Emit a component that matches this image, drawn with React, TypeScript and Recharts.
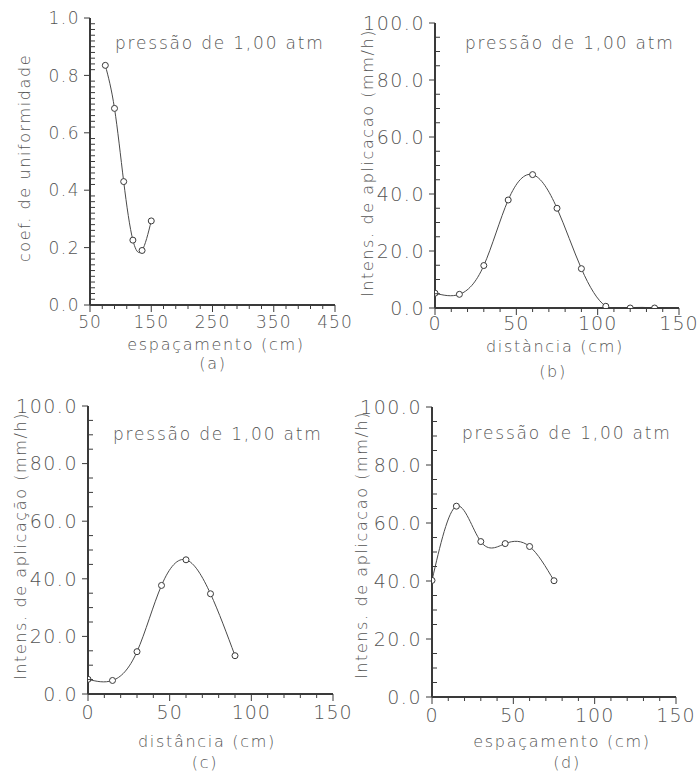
import React from 'react';
import { LineChart, Line, XAxis, YAxis, Customized } from 'recharts';

// Panel (a): coef. de uniformidade vs espaçamento
const aX = [75, 90, 105, 120, 135, 150];
const aY = [0.835, 0.685, 0.43, 0.226, 0.19, 0.293];
// Panel (b): intensidade vs distância
const bX = [0, 15, 30, 45, 60, 75, 90, 105, 120, 135];
const bY = [5.2, 4.8, 14.9, 37.9, 46.8, 35.0, 13.8, 0.6, 0, 0];
// Panel (c)
const cX = [0, 15, 30, 45, 60, 75, 90];
const cY = [5.1, 4.7, 14.7, 37.7, 46.6, 34.8, 13.3];
// Panel (d)
const dX = [0, 15, 30, 45, 60, 75];
const dY = [40.2, 65.8, 53.6, 52.9, 51.9, 40.1];

// Axis ticks
const aXMajor = [50, 150, 250, 350, 450];
const aXMinorStep = 20;
const aYMajor = [0, 0.2, 0.4, 0.6, 0.8, 1.0];
const aYMinorStep = 0.02;
const iXMajor = [0, 50, 100, 150];
const iXMinorStep = 10;
const iYMajor = [0, 20, 40, 60, 80, 100];
const iYMinorStep = 5;

const FONT = '"DejaVu Sans", sans-serif';
const WEIGHT = 200;
const TEXT = '#555';
const INK = '#3a3a3a';

function range(lo: number, hi: number, step: number): number[] {
  const out: number[] = [];
  const n = Math.round((hi - lo) / step);
  for (let i = 0; i <= n; i++) out.push(+(lo + i * step).toFixed(6));
  return out;
}

function isMajor(v: number, majors: number[]) {
  return majors.some((m) => Math.abs(m - v) < 1e-6);
}

type PanelProps = {
  left: number; top: number; width: number; height: number;
  margin: { top: number; right: number; left: number; bottom: number };
  yWidth: number; xHeight: number;
  xs: number[]; ys: number[];
  xDomain: [number, number]; xMajor: number[]; xStep: number;
  yDomain: [number, number]; yMajor: number[]; yStep: number;
  tickFont: number; xLabelDy: number;
  yTitle: string; yTitlePos: [number, number];
  xTitle: string; xTitlePos: [number, number];
  tag: string; tagPos: [number, number];
  notePos: [number, number];
};

function Panel(p: PanelProps) {
  const data = p.xs.map((x, i) => ({ x, y: p.ys[i] }));
  const xTicks = range(p.xDomain[0], p.xDomain[1], p.xStep);
  const yTicks = range(p.yDomain[0], p.yDomain[1], p.yStep);
  const textStyle = { fontFamily: FONT, fill: TEXT, fontWeight: WEIGHT };

  const XTick = (t: any) => {
    const major = isMajor(t.payload.value, p.xMajor);
    return (
      <g>
        <line x1={t.x} x2={t.x} y1={t.y} y2={t.y + (major ? 7 : 4)} stroke={INK} strokeWidth={1} />
        {major && (
          <text x={t.x} y={t.y + p.xLabelDy} textAnchor="middle" fontSize={p.tickFont} letterSpacing={1} style={textStyle}>
            {String(t.payload.value)}
          </text>
        )}
      </g>
    );
  };
  const YTick = (t: any) => {
    const major = isMajor(t.payload.value, p.yMajor);
    return (
      <g>
        {major ? (
          <line x1={t.x - 6} x2={t.x} y1={t.y} y2={t.y} stroke={INK} strokeWidth={1} />
        ) : (
          <line x1={t.x} x2={t.x + 5} y1={t.y} y2={t.y} stroke={INK} strokeWidth={1} />
        )}
        {major && (
          <text x={t.x - 10} y={t.y} dy="0.36em" textAnchor="end" fontSize={p.tickFont} letterSpacing={1.5} style={textStyle}>
            {Number(t.payload.value).toFixed(1)}
          </text>
        )}
      </g>
    );
  };

  const Overlay = () => (
    <g style={{ fontFamily: FONT, fontWeight: WEIGHT }} fill={TEXT}>
      <text
        transform={`translate(${p.yTitlePos[0]},${p.yTitlePos[1]}) rotate(-90)`}
        textAnchor="middle" dy="0.35em" fontSize={16} letterSpacing={1.6}
      >
        {p.yTitle}
      </text>
      <text x={p.xTitlePos[0]} y={p.xTitlePos[1]} textAnchor="middle" fontSize={16} letterSpacing={1.7}>
        {p.xTitle}
      </text>
      <text x={p.tagPos[0]} y={p.tagPos[1]} textAnchor="middle" fontSize={16} letterSpacing={1.7}>
        {p.tag}
      </text>
      <text x={p.notePos[0]} y={p.notePos[1]} fontSize={17} letterSpacing={1.8}>
        pressão de 1,00 atm
      </text>
    </g>
  );

  return (
    <div style={{ position: 'absolute', left: p.left, top: p.top, width: p.width, height: p.height }}>
      <LineChart width={p.width} height={p.height} data={data} margin={p.margin}>
        <XAxis
          dataKey="x" type="number" domain={p.xDomain} ticks={xTicks} interval={0}
          allowDataOverflow height={p.xHeight} tickSize={0} tickMargin={0}
          axisLine={{ stroke: INK, strokeWidth: 2 }} tickLine={false} tick={XTick}
        />
        <YAxis
          dataKey="y" type="number" domain={p.yDomain} ticks={yTicks} interval={0}
          allowDataOverflow width={p.yWidth} tickSize={0} tickMargin={0}
          axisLine={{ stroke: INK, strokeWidth: 2 }} tickLine={false} tick={YTick}
        />
        <Line
          type="natural" dataKey="y" stroke="#4a4a4a" strokeWidth={1}
          dot={{ r: 3, stroke: INK, strokeWidth: 1, fill: '#fff' }}
          isAnimationActive={false}
        />
        <Customized component={Overlay} />
      </LineChart>
    </div>
  );
}

export default function App() {
  return (
    <div style={{ position: 'absolute', left: 0, top: 0, width: 700, height: 781, background: '#fff', overflow: 'hidden' }}>
      <Panel
        left={0} top={0} width={372} height={390}
        margin={{ top: 18, right: 37, left: 0, bottom: 0 }} yWidth={90} xHeight={85}
        xs={aX} ys={aY}
        xDomain={[50, 450]} xMajor={aXMajor} xStep={aXMinorStep}
        yDomain={[0, 1]} yMajor={aYMajor} yStep={aYMinorStep}
        tickFont={17} xLabelDy={23}
        yTitle="coef. de uniformidade" yTitlePos={[24, 158]}
        xTitle="espaçamento (cm)" xTitlePos={[216, 350]}
        tag="(a)" tagPos={[213, 369]}
        notePos={[115, 49]}
      />
      <Panel
        left={350} top={0} width={350} height={390}
        margin={{ top: 23, right: 21, left: 0, bottom: 0 }} yWidth={85} xHeight={82}
        xs={bX} ys={bY}
        xDomain={[0, 150]} xMajor={iXMajor} xStep={iXMinorStep}
        yDomain={[0, 100]} yMajor={iYMajor} yStep={iYMinorStep}
        tickFont={19} xLabelDy={22}
        yTitle="Intens. de aplicacao (mm/h)" yTitlePos={[17, 163]}
        xTitle="distància (cm)" xTitlePos={[205, 352]}
        tag="(b)" tagPos={[203, 377]}
        notePos={[115, 49]}
      />
      <Panel
        left={0} top={390} width={372} height={391}
        margin={{ top: 16, right: 39, left: 0, bottom: 0 }} yWidth={88} xHeight={87}
        xs={cX} ys={cY}
        xDomain={[0, 150]} xMajor={iXMajor} xStep={iXMinorStep}
        yDomain={[0, 100]} yMajor={iYMajor} yStep={iYMinorStep}
        tickFont={19} xLabelDy={25}
        yTitle="Intens. de aplicação (mm/h)" yTitlePos={[20, 156]}
        xTitle="distância (cm)" xTitlePos={[207, 357]}
        tag="(c)" tagPos={[205, 378]}
        notePos={[113, 50]}
      />
      <Panel
        left={350} top={390} width={350} height={391}
        margin={{ top: 17, right: 24, left: 0, bottom: 0 }} yWidth={82} xHeight={84}
        xs={dX} ys={dY}
        xDomain={[0, 150]} xMajor={iXMajor} xStep={iXMinorStep}
        yDomain={[0, 100]} yMajor={iYMajor} yStep={iYMinorStep}
        tickFont={19} xLabelDy={25}
        yTitle="Intens. de aplicacao (mm/h)" yTitlePos={[11, 155]}
        xTitle="espaçamento (cm)" xTitlePos={[212, 357]}
        tag="(d)" tagPos={[217, 378]}
        notePos={[112, 49]}
      />
    </div>
  );
}
